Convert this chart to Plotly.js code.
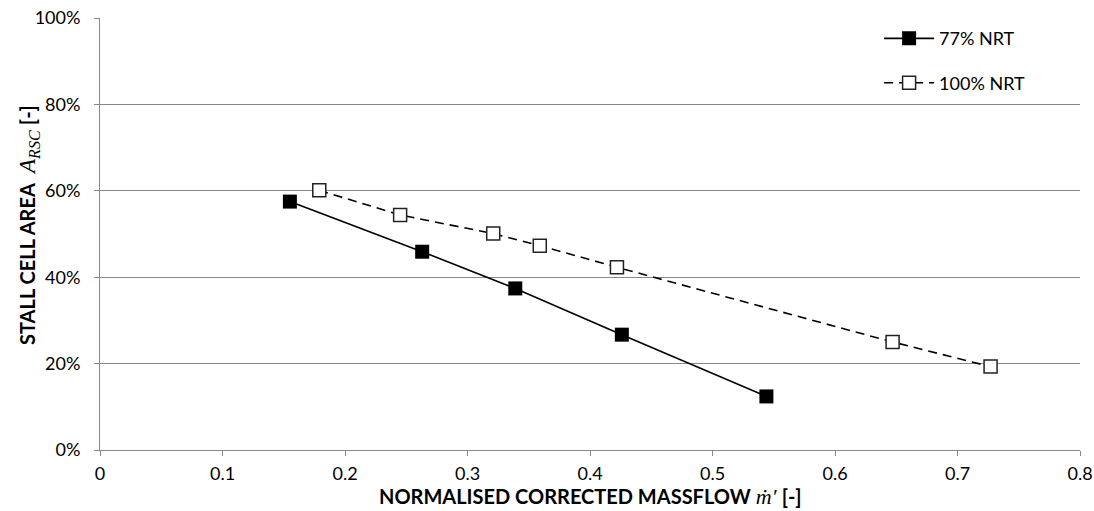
<!DOCTYPE html>
<html>
<head>
<meta charset="utf-8">
<script src="https://cdn.plot.ly/plotly-3.0.1.min.js"></script>
<style>html,body{margin:0;padding:0;background:#fff;}#chart{width:1094px;height:511px;}</style>
</head>
<body>
<div id="chart"></div>
<script>
var seriesNames = ["77% NRT", "100% NRT"];
var massflow77 = [0.155, 0.263, 0.339, 0.426, 0.544];
var area77 = [0.575, 0.459, 0.374, 0.267, 0.124];
var massflow100 = [0.179, 0.245, 0.321, 0.359, 0.422, 0.647, 0.727];
var area100 = [0.601, 0.544, 0.501, 0.473, 0.423, 0.250, 0.193];
var xTicks = [0, 0.1, 0.2, 0.3, 0.4, 0.5, 0.6, 0.7, 0.8];
var xTickText = ["0", "0.1", "0.2", "0.3", "0.4", "0.5", "0.6", "0.7", "0.8"];
var yTicks = [0, 0.2, 0.4, 0.6, 0.8, 1.0];
var yTickText = ["0%", "20%", "40%", "60%", "80%", "100%"];
var xTitle = "<b>NORMALISED CORRECTED MASSFLOW</b> <span style=\"font-family:'Liberation Serif','DejaVu Serif',serif;font-size:22px\"><i>ṁ′</i></span> <b>[-]</b>";
var yTitle = "<b>STALL CELL AREA</b>  <span style=\"font-family:'Liberation Serif','DejaVu Serif',serif;font-size:23px\"><i>A</i><sub><i>RSC</i></sub></span> <b>[-]</b>";

var FONT = "Lato, 'Open Sans', sans-serif";

var traces = [
  {
    x: massflow77, y: area77, name: seriesNames[0], type: "scatter", mode: "lines+markers",
    legendgroup: "a",
    line: {color: "#000", width: 1.6},
    marker: {symbol: "square", size: 14, color: "#000", line: {width: 0}}
  },
  {
    x: massflow100, y: area100, name: seriesNames[1], type: "scatter", mode: "lines+markers",
    legendgroup: "b",
    line: {color: "#000", width: 1.6, dash: "9px,6px"},
    marker: {symbol: "square", size: 13, color: "#fff", line: {width: 1.5, color: "#222"}}
  }
];

var layout = {
  width: 1094, height: 511,
  margin: {l: 100, r: 14, t: 18, b: 61},
  paper_bgcolor: "#fff", plot_bgcolor: "#fff",
  font: {family: FONT, size: 18, color: "#000"},
  showlegend: true,
  legend: {
    x: 0.795, y: 0.995, xanchor: "left", yanchor: "top",
    bgcolor: "rgba(0,0,0,0)", traceorder: "grouped", tracegroupgap: 18,
    itemwidth: 50, font: {family: FONT, size: 18, color: "#000"}
  },
  xaxis: {
    range: [0, 0.8], tickvals: xTicks, ticktext: xTickText,
    showgrid: false, zeroline: false, showline: true, linecolor: "#888", linewidth: 1,
    ticks: "outside", ticklen: 5, tickcolor: "#888", tickwidth: 1, ticklabelstandoff: 2,
    tickfont: {family: FONT, size: 18, color: "#000"},
    fixedrange: true
  },
  yaxis: {
    range: [0, 1.0], tickvals: yTicks, ticktext: yTickText,
    showgrid: true, gridcolor: "#888", gridwidth: 1,
    zeroline: false, showline: true, linecolor: "#888", linewidth: 1,
    ticks: "outside", ticklen: 5, tickcolor: "#888", tickwidth: 1, ticklabelstandoff: 10,
    tickfont: {family: FONT, size: 18, color: "#000"},
    fixedrange: true
  },
  annotations: [
    {text: xTitle, xref: "paper", yref: "paper", x: 0.5, y: -0.14, xanchor: "center", yanchor: "bottom",
     showarrow: false, borderpad: 0, font: {family: FONT, size: 20, color: "#000"}},
    {text: yTitle, xref: "paper", yref: "paper", x: -0.072, y: 0.522, xanchor: "center", yanchor: "middle",
     textangle: -90, showarrow: false, borderpad: 0, font: {family: FONT, size: 20, color: "#000"}}
  ]
};

Plotly.newPlot("chart", traces, layout, {displayModeBar: false, staticPlot: true});
</script>
</body>
</html>
